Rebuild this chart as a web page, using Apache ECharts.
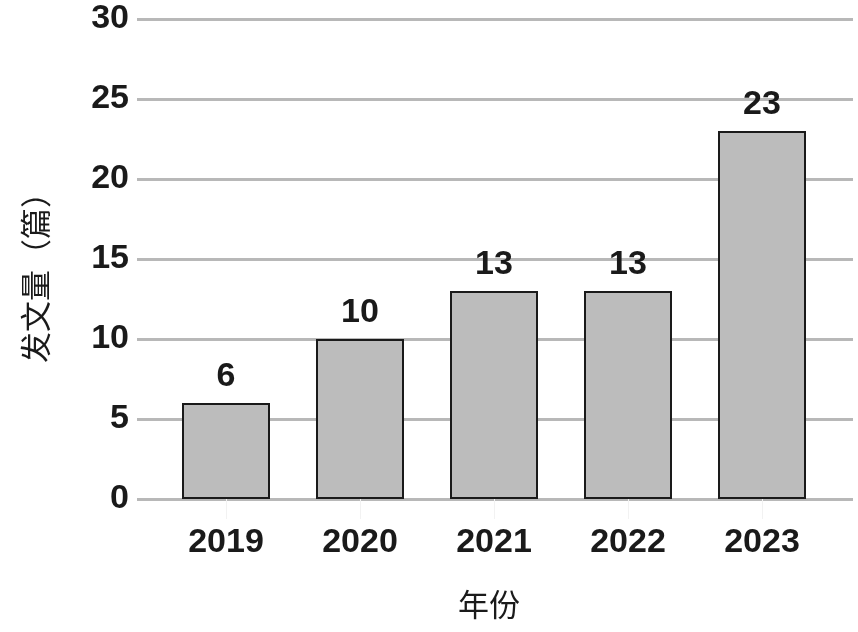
<!DOCTYPE html>
<html><head><meta charset="utf-8">
<script src="https://cdn.jsdelivr.net/npm/echarts@6/dist/echarts.min.js"></script>
<style>html,body{margin:0;padding:0;background:#fff}#c{width:858px;height:632px}</style>
</head><body><div id="c"></div>
<script>
const categories = ['2019', '2020', '2021', '2022', '2023'];
const values = [6, 10, 13, 13, 23];
const yTicks = { min: 0, max: 30, interval: 5 };
const xName = '年份';
const yName = '发文量（篇）';

const chart = echarts.init(document.getElementById('c'), null, { renderer: 'canvas' });
const numFont = { fontFamily: '"Liberation Sans", Arial, sans-serif', fontWeight: 'bold', fontSize: 34, color: '#1a1a1a' };
const cjkFont = { fontFamily: '"Noto Sans CJK SC", sans-serif', fontSize: 31, color: '#1a1a1a' };
chart.setOption({
  animation: false,
  backgroundColor: '#fff',
  grid: [
    { left: 137, right: 5, top: 19, bottom: 133 },
    { left: 159, right: 29, top: 19, bottom: 133 }
  ],
  xAxis: [
    { gridIndex: 0, type: 'value', min: 0, max: 1, show: false },
    { gridIndex: 1, type: 'category', data: categories,
      axisLine: { show: false },
      axisTick: { show: true, alignWithLabel: true, length: 20, lineStyle: { color: '#f2f2f2', width: 1 } },
      axisLabel: Object.assign({ margin: 27 }, numFont),
      name: xName, nameLocation: 'middle', nameGap: 90, nameTextStyle: Object.assign({ padding: [0, 10, 0, 0] }, cjkFont) },
    { gridIndex: 0, type: 'value', show: false }
  ].slice(0, 2),
  yAxis: [
    { gridIndex: 0, type: 'value', min: yTicks.min, max: yTicks.max, interval: yTicks.interval,
      axisLine: { show: false }, axisTick: { show: false },
      axisLabel: Object.assign({ margin: 8 }, numFont),
      splitLine: { show: true, lineStyle: { color: '#b8b8b8', width: 3 } },
      name: yName, nameLocation: 'middle', nameGap: 86, nameRotate: 90, nameTextStyle: Object.assign({ padding: [0, 0, 0, -22] }, cjkFont) },
    { gridIndex: 1, type: 'value', min: yTicks.min, max: yTicks.max, interval: yTicks.interval, show: false }
  ],
  series: [{
    type: 'bar', xAxisIndex: 1, yAxisIndex: 1, data: values, barWidth: 88,
    itemStyle: { color: '#bcbcbc', borderColor: '#1a1a1a', borderWidth: 2 },
    label: Object.assign({ show: true, position: 'top', distance: 9 }, numFont)
  }]
});
</script></body></html>
